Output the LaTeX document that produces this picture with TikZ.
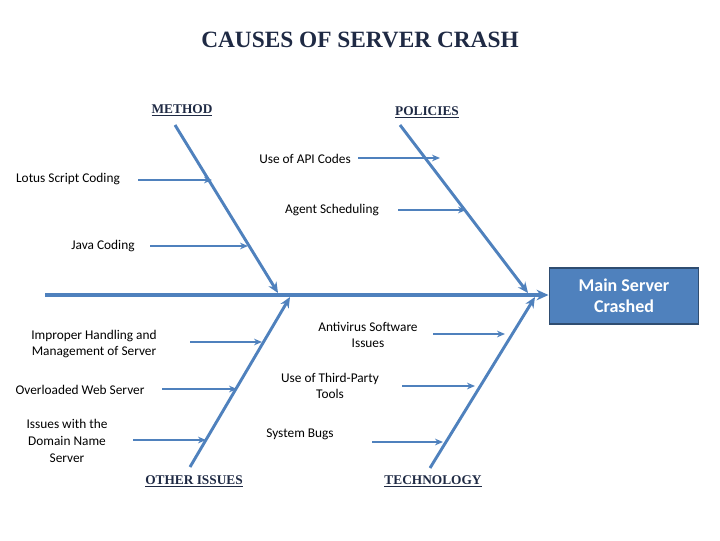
\documentclass[tikz,border=0pt]{standalone}
\usepackage{fontspec}
\setmainfont{Carlito}
\newfontfamily\titlefont{Liberation Serif}
\usetikzlibrary{arrows.meta}
\definecolor{bone}{HTML}{4F81BD}
\definecolor{navy}{HTML}{1F2A44}
\tikzset{
  bone/.style={line width=2.2pt, draw=bone, -{Stealth[length=8pt,width=7pt]}},
  spine/.style={line width=3pt, draw=bone, -{Stealth[length=9pt,width=8pt]}},
  sub/.style={line width=1.4pt, draw=bone, -{Stealth[length=6pt,width=5pt]}},
  lbl/.style={font=\fontsize{10}{12.5}\selectfont, align=center, text=black},
  cat/.style={font=\titlefont\bfseries\fontsize{10}{12}\selectfont, text=navy},
}
\begin{document}
\begin{tikzpicture}[x=0.75pt,y=-0.75pt]
\useasboundingbox (0,0) rectangle (720,540);
\node[font=\titlefont\bfseries\fontsize{17.5}{20}\selectfont, text=navy] (title) at (360,40) {CAUSES OF SERVER CRASH};
\node[cat] (method) at (182,110) {\underline{METHOD}};
\node[cat] (policies) at (427,112) {\underline{POLICIES}};
\node[cat] (other) at (194,481) {\underline{OTHER ISSUES}};
\node[cat] (tech) at (433,481) {\underline{TECHNOLOGY}};
\node[draw=bone!60!black, line width=1.2pt, fill=bone, minimum width=112pt, minimum height=42pt, align=center, text=white, font=\bfseries\fontsize{13.5}{16}\selectfont] (main) at (624,296) {Main Server\\Crashed};
% spine and bones
\coordinate (tail) at (45,295);
\draw[spine] (tail) -- (main.west |- tail);
\coordinate (m0) at (175,125); \coordinate (m1) at (278,293);
\coordinate (p0) at (400,125); \coordinate (p1) at (528,293);
\coordinate (o0) at (190,467); \coordinate (o1) at (290,297);
\coordinate (t0) at (430,468); \coordinate (t1) at (535,297);
\draw[bone] (m0) -- (m1);
\draw[bone] (p0) -- (p1);
\draw[bone] (o0) -- (o1);
\draw[bone] (t0) -- (t1);
% causes
\node[lbl] (lotus) at (68,179) {Lotus Script Coding};
\coordinate (a1) at (138,180); \coordinate (b1) at (212,180);
\draw[sub] (a1) -- (b1);
\node[lbl] (java) at (103,246) {Java Coding};
\coordinate (a2) at (150,246); \coordinate (b2) at (248,246);
\draw[sub] (a2) -- (b2);
\node[lbl] (api) at (305,159) {Use of API Codes};
\coordinate (a3) at (358,158); \coordinate (b3) at (440,158);
\draw[sub] (a3) -- (b3);
\node[lbl] (agent) at (332,210) {Agent Scheduling};
\coordinate (a4) at (398,210); \coordinate (b4) at (466,210);
\draw[sub] (a4) -- (b4);
\node[lbl] (improper) at (94,344) {Improper Handling and\\Management of Server};
\coordinate (a5) at (190,342); \coordinate (b5) at (262,342);
\draw[sub] (a5) -- (b5);
\node[lbl] (overload) at (80,390) {Overloaded Web Server};
\coordinate (a6) at (162,389); \coordinate (b6) at (237,389);
\draw[sub] (a6) -- (b6);
\node[lbl] (dns) at (67,441) {Issues with the\\Domain Name\\Server};
\coordinate (a7) at (133,440); \coordinate (b7) at (206,440);
\draw[sub] (a7) -- (b7);
\node[lbl] (antivirus) at (368,335) {Antivirus Software\\Issues};
\coordinate (a8) at (433,334); \coordinate (b8) at (505,334);
\draw[sub] (a8) -- (b8);
\node[lbl] (third) at (330,386) {Use of Third-Party\\Tools};
\coordinate (a9) at (402,386); \coordinate (b9) at (475,386);
\draw[sub] (a9) -- (b9);
\node[lbl] (bugs) at (300,434) {System Bugs};
\coordinate (a10) at (372,442); \coordinate (b10) at (443,442);
\draw[sub] (a10) -- (b10);
\end{tikzpicture}
\end{document}
